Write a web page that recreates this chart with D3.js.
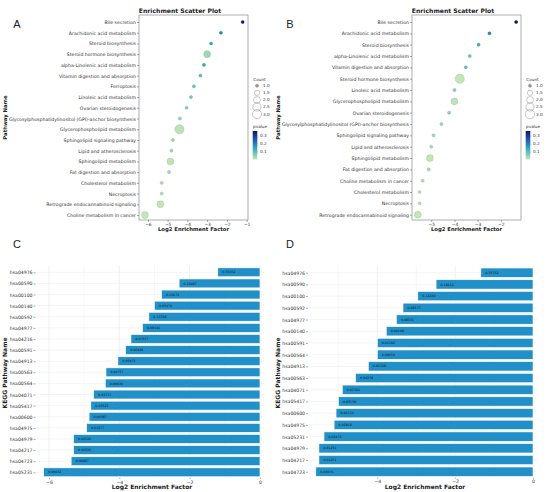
<!DOCTYPE html>
<html>
<head>
<meta charset="utf-8">
<script src="https://cdn.jsdelivr.net/npm/d3@7"></script>
<style>
body { margin: 0; background: #fff; }
svg { font-family: "DejaVu Sans", sans-serif; }
</style>
</head>
<body>
<svg id="fig" width="546" height="492"></svg>
<script>
// ---- Data: group 1 (panels A and C) ----
var namesA = ["Bile secretion", "Arachidonic acid metabolism", "Steroid biosynthesis",
    "Steroid hormone biosynthesis", "alpha-Linolenic acid metabolism", "Vitamin digestion and absorption",
    "Ferroptosis", "Linoleic acid metabolism", "Ovarian steroidogenesis",
    "Glycosylphosphatidylinositol (GPI)-anchor biosynthesis", "Glycerophospholipid metabolism",
    "Sphingolipid signaling pathway", "Lipid and atherosclerosis", "Sphingolipid metabolism",
    "Fat digestion and absorption", "Cholesterol metabolism", "Necroptosis",
    "Retrograde endocannabinoid signaling", "Choline metabolism in cancer"];
var idsA = ["hsa04976", "hsa00590", "hsa00100", "hsa00140", "hsa00592", "hsa04977", "hsa04216",
    "hsa00591", "hsa04913", "hsa00563", "hsa00564", "hsa04071", "hsa05417", "hsa00600",
    "hsa04975", "hsa04979", "hsa04217", "hsa04723", "hsa05231"];
var factorA = [-1.2, -2.3, -2.8, -3.0, -3.16, -3.34, -3.67, -3.82, -4.04, -4.38, -4.4,
    -4.73, -4.81, -4.86, -4.93, -5.3, -5.3, -5.37, -6.15];
var pvalA = [0.35652, 0.18487, 0.13672, 0.03476, 0.13708, 0.09546, 0.07657, 0.06928, 0.05975,
    0.04757, 0.00830, 0.03773, 0.03525, 0.00387, 0.03277, 0.02526, 0.02526, 0.00087, 0.00032];
var countA = [1, 1, 1, 2, 1, 1, 1, 1, 1, 1, 3, 1, 1, 2, 1, 1, 1, 2, 2];

// ---- Data: group 2 (panels B and D) ----
var namesB = ["Bile secretion", "Arachidonic acid metabolism", "Steroid biosynthesis",
    "alpha-Linolenic acid metabolism", "Vitamin digestion and absorption", "Steroid hormone biosynthesis",
    "Linoleic acid metabolism", "Glycerophospholipid metabolism", "Ovarian steroidogenesis",
    "Glycosylphosphatidylinositol (GPI)-anchor biosynthesis", "Sphingolipid signaling pathway",
    "Lipid and atherosclerosis", "Sphingolipid metabolism", "Fat digestion and absorption",
    "Choline metabolism in cancer", "Cholesterol metabolism", "Necroptosis",
    "Retrograde endocannabinoid signaling"];
var idsB = ["hsa04976", "hsa00590", "hsa00100", "hsa00592", "hsa04977", "hsa00140", "hsa00591",
    "hsa00564", "hsa04913", "hsa00563", "hsa04071", "hsa05417", "hsa00600", "hsa04975",
    "hsa05231", "hsa04979", "hsa04217", "hsa04723"];
var factorB = [-1.34, -2.49, -2.96, -3.34, -3.51, -3.77, -4.0, -4.0, -4.23, -4.56, -4.9,
    -5.0, -5.06, -5.11, -5.37, -5.5, -5.5, -5.58];
var pvalB = [0.35752, 0.18612, 0.12249, 0.08577, 0.08531, 0.00109, 0.06192, 0.00654, 0.05328,
    0.04239, 0.03366, 0.03139, 0.00134, 0.02918, 0.02476, 0.01251, 0.01251, 0.00076];
var countB = [1, 1, 1, 1, 1, 3, 1, 2, 1, 1, 1, 1, 2, 1, 1, 1, 1, 2];

// Legend values
var legendCounts = [1.0, 1.5, 2.0, 2.5, 3.0];
var colorbarTicks = [0.1, 0.2, 0.3];

var svg = d3.select("#fig");
var defs = svg.append("defs");

// Point area grows linearly with the count
var areaScale = d3.scaleLinear().domain([1, 3]).range([2.4, 21]);
function radius(c) { return Math.sqrt(areaScale(c)); }

// Light green -> dark navy
function cmap(t) { return d3.interpolateYlGnBu(0.25 + 0.75 * t); }

function panelLetter(x, y, letter) {
    svg.append("text")
        .attr("x", x).attr("y", y)
        .attr("text-anchor", "middle")
        .style("font-family", "'Liberation Sans', Arial, sans-serif")
        .style("font-size", "11px")
        .attr("fill", "#222")
        .text(letter);
}

function drawScatter(cfg) {
    var ox = cfg.ox;
    var left = ox + 139, right = ox + 248, top = 15, bottom = 220;
    var g = svg.append("g");

    var x = d3.scaleLinear().domain(cfg.xDomain).range([left, right]);
    var y = d3.scalePoint().domain(cfg.names).range(cfg.yRange);
    var color = d3.scaleSequential(cmap).domain(d3.extent(cfg.pvals));

    // Frame
    g.append("rect")
        .attr("x", left).attr("y", top)
        .attr("width", right - left).attr("height", bottom - top)
        .attr("fill", "none").attr("stroke", "#999").attr("stroke-width", 0.8);

    // Axes
    var xAxis = g.append("g")
        .attr("transform", "translate(0," + bottom + ")")
        .call(d3.axisBottom(x)
            .tickValues(d3.range(Math.ceil(cfg.xDomain[0]), Math.floor(cfg.xDomain[1]) + 1))
            .tickFormat(d3.format("d"))
            .tickSize(2).tickPadding(0.8));
    var yAxis = g.append("g")
        .attr("transform", "translate(" + left + ",0)")
        .call(d3.axisLeft(y).tickSize(2).tickPadding(1));
    xAxis.selectAll(".tick text").style("font-size", "4.4px");
    yAxis.selectAll(".tick text").style("font-size", "4.65px");
    [xAxis, yAxis].forEach(function (a) {
        a.select(".domain").remove();
        a.selectAll(".tick line").attr("stroke", "#555").attr("stroke-width", 0.5);
        a.selectAll(".tick text").attr("fill", "#333")
            .style("font-family", "'DejaVu Sans', sans-serif");
    });

    // Dots
    var rows = cfg.names.map(function (n, i) {
        return {name: n, f: cfg.factor[i], p: cfg.pvals[i], c: cfg.counts[i]};
    });
    g.append("g").selectAll("circle")
        .data(rows)
        .enter()
        .append("circle")
        .attr("cx", function (d) { return x(d.f); })
        .attr("cy", function (d) { return y(d.name); })
        .attr("r", function (d) { return radius(d.c); })
        .attr("fill", function (d) { return color(d.p); })
        .attr("stroke", function (d) { return d3.color(color(d.p)).darker(0.6); })
        .attr("stroke-width", 0.4);

    // Titles
    g.append("text")
        .attr("x", ox + 180).attr("y", 12.5)
        .attr("text-anchor", "middle")
        .style("font-size", "6.1px").style("font-weight", "bold")
        .attr("fill", "#222")
        .text("Enrichment Scatter Plot");
    g.append("text")
        .attr("x", (left + right) / 2).attr("y", 231)
        .attr("text-anchor", "middle")
        .style("font-size", "5.3px").style("font-weight", "bold")
        .attr("fill", "#222")
        .text("Log2 Enrichment Factor");
    g.append("text")
        .attr("transform", "translate(" + (ox + 7.4) + "," + ((top + bottom) / 2) + ") rotate(-90)")
        .attr("text-anchor", "middle")
        .style("font-size", "5.3px").style("font-weight", "bold")
        .attr("fill", "#222")
        .text("Pathway Name");

    // Count legend
    var lg = g.append("g");
    lg.append("text")
        .attr("x", ox + 253.3).attr("y", 80.5)
        .style("font-size", "4.2px").attr("fill", "#333")
        .text("Count");
    var items = lg.selectAll("g.item")
        .data(legendCounts)
        .enter()
        .append("g")
        .attr("transform", function (d, i) {
            return "translate(" + (ox + 257) + "," + (85.7 + i * 7.1) + ")";
        });
    items.append("circle")
        .attr("r", function (d) { return radius(d); })
        .attr("fill", function (d) { return d === 1 ? "#999" : "none"; })
        .attr("stroke", "#777").attr("stroke-width", 0.4);
    items.append("text")
        .attr("x", 6).attr("dy", "0.35em")
        .style("font-size", "4.2px").attr("fill", "#333")
        .text(function (d) { return d.toFixed(1); });

    // pvalue colour bar
    lg.append("text")
        .attr("x", ox + 253).attr("y", 128.2)
        .style("font-size", "4.2px").attr("fill", "#333")
        .text("pvalue");
    var gradId = "grad" + cfg.letter;
    var grad = defs.append("linearGradient")
        .attr("id", gradId)
        .attr("x1", 0).attr("y1", 1).attr("x2", 0).attr("y2", 0);
    d3.range(0, 1.0001, 0.1).forEach(function (t) {
        grad.append("stop").attr("offset", t).attr("stop-color", cmap(t));
    });
    var cbTop = 131, cbBottom = 159.5;
    lg.append("rect")
        .attr("x", ox + 252.7).attr("y", cbTop)
        .attr("width", 4.6).attr("height", cbBottom - cbTop)
        .attr("fill", "url(#" + gradId + ")");
    var cb = d3.scaleLinear().domain(color.domain()).range([cbBottom, cbTop]);
    var cbAxis = lg.append("g")
        .attr("transform", "translate(" + (ox + 257.3) + ",0)")
        .call(d3.axisRight(cb).tickValues(colorbarTicks).tickFormat(d3.format(".1f"))
            .tickSize(1).tickPadding(1.6));
    cbAxis.select(".domain").remove();
    cbAxis.selectAll(".tick line").attr("stroke", "#555").attr("stroke-width", 0.4);
    cbAxis.selectAll(".tick text").attr("fill", "#333").style("font-size", "4.2px")
        .style("font-family", "'DejaVu Sans', sans-serif");

    panelLetter(ox + 17, 28, cfg.letter);
}

function drawBars(cfg) {
    var ox = cfg.ox;
    var g = svg.append("g");
    var x = d3.scaleLinear().domain(cfg.xDomain).range(cfg.xRange);
    var y = d3.scalePoint().domain(cfg.ids).range(cfg.yRange);
    var step = y.step();
    var barH = step * 0.8;
    var top = cfg.yRange[0] - step * 0.6, bottom = cfg.yRange[1] + step * 0.5;

    // Grid: major on even, minor on odd, one line per category
    var grid = g.append("g");
    d3.range(Math.ceil(cfg.xDomain[0]), Math.floor(cfg.xDomain[1]) + 1).forEach(function (v) {
        grid.append("line")
            .attr("x1", x(v)).attr("x2", x(v)).attr("y1", top).attr("y2", bottom)
            .attr("stroke", v % 2 === 0 ? "#e6e6e6" : "#f1f1f1").attr("stroke-width", 0.6);
    });
    cfg.ids.forEach(function (id) {
        grid.append("line")
            .attr("x1", cfg.xRange[0]).attr("x2", cfg.xRange[1])
            .attr("y1", y(id)).attr("y2", y(id))
            .attr("stroke", "#ececec").attr("stroke-width", 0.6);
    });

    var rows = cfg.ids.map(function (id, i) {
        return {id: id, f: cfg.factor[i], p: cfg.pvals[i]};
    });

    // Bars
    g.append("g").selectAll("rect")
        .data(rows)
        .enter()
        .append("rect")
        .attr("x", function (d) { return x(d.f); })
        .attr("y", function (d) { return y(d.id) - barH / 2; })
        .attr("width", function (d) { return x(0) - x(d.f); })
        .attr("height", barH)
        .attr("fill", "#2190c8")
        .attr("stroke", "#fff").attr("stroke-width", 0.6);

    // p-value labels inside bars
    g.append("g").selectAll("text")
        .data(rows)
        .enter()
        .append("text")
        .attr("x", function (d) { return x(d.f) + 4.5; })
        .attr("y", function (d) { return y(d.id); })
        .attr("dy", "0.35em")
        .style("font-size", "3.2px").attr("fill", "#111")
        .text(function (d) { return d.p.toFixed(5); });

    // Axes
    var yAxis = g.append("g")
        .attr("transform", "translate(" + (cfg.xRange[0] - 1.2) + ",0)")
        .call(d3.axisLeft(y).tickSize(2).tickPadding(1));
    var xAxis = g.append("g")
        .attr("transform", "translate(0," + bottom + ")")
        .call(d3.axisBottom(x).tickValues(cfg.xTicks).tickFormat(d3.format("d"))
            .tickSize(1.2).tickPadding(1.2));
    [xAxis, yAxis].forEach(function (a) {
        a.select(".domain").remove();
        a.selectAll(".tick line").attr("stroke", "#555").attr("stroke-width", 0.5);
        a.selectAll(".tick text").attr("fill", "#333").style("font-size", "4.6px")
            .style("font-family", "'DejaVu Sans', sans-serif");
    });

    g.append("text")
        .attr("x", ox + 152).attr("y", 489)
        .attr("text-anchor", "middle")
        .style("font-size", "6px").style("font-weight", "bold")
        .attr("fill", "#222")
        .text("Log2 Enrichment Factor");
    g.append("text")
        .attr("transform", "translate(" + (ox + 6.6) + ",373) rotate(-90)")
        .attr("text-anchor", "middle")
        .style("font-size", "6px").style("font-weight", "bold")
        .attr("fill", "#222")
        .text("KEGG Pathway Name");

    panelLetter(ox + 17, 248.3, cfg.letter);
}

drawScatter({letter: "A", ox: 0, names: namesA, factor: factorA, pvals: pvalA, counts: countA,
    xDomain: [-6.45, -0.93], yRange: [22, 215]});
drawScatter({letter: "B", ox: 273, names: namesB, factor: factorB, pvals: pvalB, counts: countB,
    xDomain: [-5.83, -1.13], yRange: [22, 214.7]});
drawBars({letter: "C", ox: 0, ids: idsA, factor: factorA, pvals: pvalA,
    xDomain: [-6.35, 0.12], xRange: [36.7, 264.2], yRange: [272.3, 472.3], xTicks: [-6, -4, -2, 0]});
drawBars({letter: "D", ox: 273, ids: idsB, factor: factorB, pvals: pvalB,
    xDomain: [-5.75, 0.1], xRange: [309.2, 536.9], yRange: [272.7, 471.7], xTicks: [-4, -2, 0]});
</script>
</body>
</html>
